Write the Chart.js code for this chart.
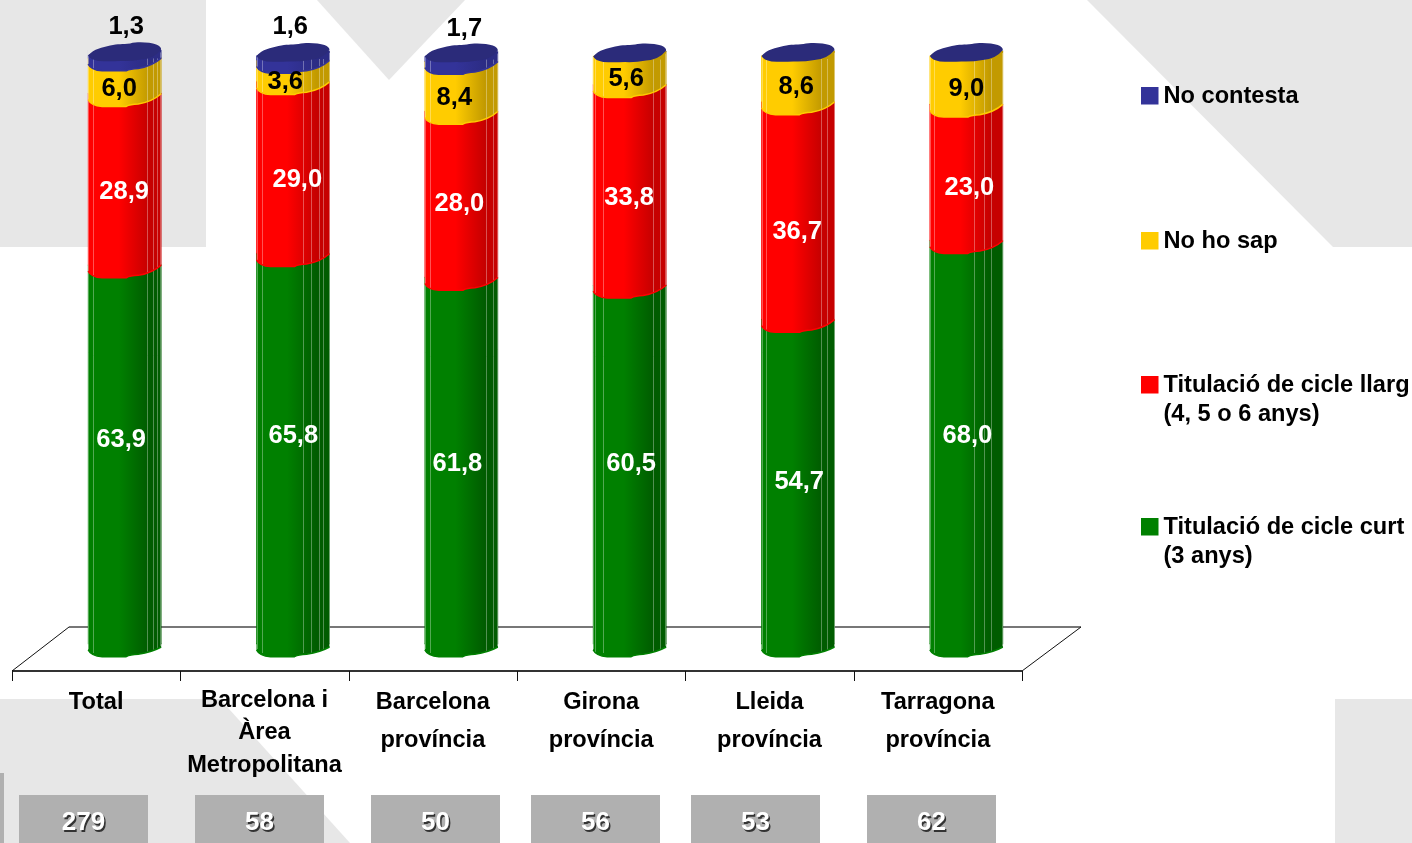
<!DOCTYPE html>
<html lang="ca">
<head>
  <meta charset="UTF-8" />
  <title>Titulació per territori</title>
  <script src="https://cdn.jsdelivr.net/npm/chart.js"></script>
  <style>
    html, body { margin: 0; padding: 0; background: #fff; overflow: hidden; }
    canvas { display: block; }
  </style>
</head>
<body>
  <canvas id="grafic" width="1412" height="843"></canvas>

  <script>
    // Dades
    const categories = [
      ['Total'],
      ['Barcelona i', 'Àrea', 'Metropolitana'],
      ['Barcelona', 'província'],
      ['Girona', 'província'],
      ['Lleida', 'província'],
      ['Tarragona', 'província']
    ];
    const sampleSizes = [279, 58, 50, 56, 53, 62];
    const cicleCurt = [63.9, 65.8, 61.8, 60.5, 54.7, 68.0];
    const cicleLlarg = [28.9, 29.0, 28.0, 33.8, 36.7, 23.0];
    const noHoSap = [6.0, 3.6, 8.4, 5.6, 8.6, 9.0];
    const noContesta = [1.3, 1.6, 1.7, 0, 0, 0];

    const FONT = '"Liberation Sans", Arial, sans-serif';
    const BAR_W = 73;
    const DEPTH_SHIFT = 28.5; // barres desplaçades respecte a l'eix pel 3D

    const shades = [
      ['#008000', '#005c00'],
      ['#ff0000', '#c60000'],
      ['#ffcc00', '#c29a00'],
      ['#333399', '#2c2c84']
    ];
    const legendRows = [
      { ds: 3, top: 87, lines: ['No contesta'] },
      { ds: 2, top: 232, lines: ['No ho sap'] },
      { ds: 1, top: 376, lines: ['Titulació de cicle llarg', '(4, 5 o 6 anys)'] },
      { ds: 0, top: 518, lines: ['Titulació de cicle curt', '(3 anys)'] }
    ];
    const sampleBoxes = [19, 195, 371, 531, 691, 867];
    const ribs = [
      [5, 59, 65, 69],
      [5, 46, 54, 62, 66],
      [5, 61, 68],
      [2, 10, 60, 67],
      [4, 59, 65],
      [4, 44, 54, 61]
    ];
    // Les etiquetes de l'original estan col·locades a mà: [dx, dy] des del centre del segment
    const labelShift = [
      [[-3.5, -14.5], [0.3, -13], [-4, 3], [1.5, -1], [1.2, 0], [1, -6.4]],
      [[-0.5, 12.6], [4.3, 12], [-2, 9.5], [-0.5, 13], [-0.8, 21], [3, 15.4]],
      [[-5.5, 13], [-7.7, 11], [-7, 11.5], [-3.5, 11], [-1.8, 10.5], [0, 11.3]],
      [[1.5, -27], [-2.7, -29], [3, -28], [0, 0], [0, 0], [0, 0]]
    ];

    function barGradient(ctx, seriesIndex) {
      const chart = ctx.chart;
      if (!chart.chartArea) return shades[seriesIndex][0];
      const cx = chart.scales.x.getPixelForValue(ctx.dataIndex);
      return makeGradient(chart.ctx, cx, seriesIndex);
    }

    function makeGradient(c, cx, seriesIndex) {
      const g = c.createLinearGradient(cx - BAR_W / 2, 0, cx + BAR_W / 2, 0);
      g.addColorStop(0, shades[seriesIndex][0]);
      g.addColorStop(0.42, shades[seriesIndex][0]);
      g.addColorStop(0.82, shades[seriesIndex][1]);
      g.addColorStop(1, shades[seriesIndex][1]);
      return g;
    }

    // vora inferior irregular del cilindre, des de (l, y + 6) cap a la dreta
    function traceEdge(c, l, y, endDrop) {
      c.quadraticCurveTo(l + 3, y + 12, l + 14, y + 12.7);
      c.lineTo(l + 38, y + 12.7);
      c.quadraticCurveTo(l + 42, y + 10.5, l + 50, y + 10.3);
      c.quadraticCurveTo(l + 64, y + 8, l + BAR_W, y + endDrop);
    }

    const decor = {
      id: 'decor',
      beforeDraw(chart) {
        const c = chart.ctx;
        c.save();
        c.fillStyle = '#ffffff';
        c.fillRect(0, 0, 1412, 843);
        c.fillStyle = '#e7e7e7';
        [
          [[0, 0], [206, 0], [206, 247], [0, 247]],
          [[317, 0], [465, 0], [389, 80]],
          [[1087, 0], [1412, 0], [1412, 247], [1333, 247]],
          [[0, 699], [220, 699], [350, 843], [0, 843]],
          [[1335, 699], [1412, 699], [1412, 843], [1335, 843]]
        ].forEach(p => {
          c.beginPath();
          p.forEach((q, i) => i ? c.lineTo(q[0], q[1]) : c.moveTo(q[0], q[1]));
          c.closePath();
          c.fill();
        });

        // caixes de mostra
        c.fillStyle = '#b0b0b0';
        c.fillRect(0, 773, 4, 70);
        sampleBoxes.forEach(x => c.fillRect(x, 795, 129, 48));
        c.font = 'bold 26px ' + FONT;
        c.textAlign = 'center';
        c.textBaseline = 'middle';
        sampleSizes.forEach((n, i) => {
          c.fillStyle = '#333333';
          c.fillText(n, sampleBoxes[i] + 66, 824.5);
          c.fillStyle = '#ffffff';
          c.fillText(n, sampleBoxes[i] + 64.5, 823);
        });

        // llegenda
        c.textAlign = 'left';
        c.font = 'bold 23.6px ' + FONT;
        legendRows.forEach(row => {
          c.fillStyle = shades[row.ds][0];
          c.fillRect(1141, row.top, 17.5, 17.5);
          c.fillStyle = '#000000';
          row.lines.forEach((t, i) => c.fillText(t, 1163.5, row.top + 9 + i * 29));
        });
        c.restore();
      },
      beforeDatasetsDraw(chart) {
        // terra
        const c = chart.ctx;
        const x = chart.scales.x;
        const left = x.left - DEPTH_SHIFT;
        const right = x.right - DEPTH_SHIFT;
        c.save();
        c.strokeStyle = '#777777';
        c.lineWidth = 2;
        c.beginPath();
        c.moveTo(left + 57, 627);
        c.lineTo(right + 59, 627);
        c.stroke();
        c.strokeStyle = '#333333';
        c.beginPath();
        c.moveTo(left, 671);
        c.lineTo(right, 671);
        c.stroke();
        c.strokeStyle = '#111111';
        c.lineWidth = 1;
        c.beginPath();
        c.moveTo(left, 671);
        c.lineTo(left + 57, 627);
        c.moveTo(right, 671);
        c.lineTo(right + 59, 627);
        for (let i = 0; i <= categories.length; i++) {
          const tx = Math.round(left + (right - left) * i / categories.length) + 0.5;
          c.moveTo(tx, 671);
          c.lineTo(tx, 681);
        }
        c.stroke();
        c.restore();

        // retalla la cantonada superior esquerra de cada barra, la tapa la fa arrodonida
        c.save();
        c.beginPath();
        c.rect(0, 0, 1412, 843);
        const tops = chart.getDatasetMeta(3).data;
        tops.forEach(el => {
          const l = el.x - BAR_W / 2;
          c.moveTo(l - 1, el.y + 5);
          c.lineTo(l - 1, el.y - 2);
          c.lineTo(l + 13, el.y - 2);
          c.closePath();
        });
        c.clip('evenodd');
      },
      afterDatasetsDraw(chart) {
        const c = chart.ctx;
        c.restore(); // treu el retall dels rectangles

        const metas = chart.data.datasets.map((d, i) => chart.getDatasetMeta(i));
        c.save();

        categories.forEach((cat, i) => {
          const cx = metas[0].data[i].x;
          const l = cx - BAR_W / 2;
          const base = metas[0].data[i].base;
          const top = metas[3].data[i].y;

          // voreres corbes, de baix a dalt
          metas.forEach((meta, s) => {
            const el = meta.data[i];
            if (Math.abs(el.y - el.base) < 0.01) return;
            const drop = s === 0 ? 3 : 0;
            c.beginPath();
            c.moveTo(l, el.base - 1);
            c.lineTo(l, el.base + 6);
            traceEdge(c, l, el.base, drop);
            c.lineTo(l + BAR_W, el.base - 1);
            c.closePath();
            c.fillStyle = makeGradient(c, cx, s);
            c.fill();
          });

          // nervis verticals clars
          c.strokeStyle = 'rgba(255,255,255,0.32)';
          c.lineWidth = 1;
          c.beginPath();
          ribs[i].forEach(r => {
            c.moveTo(Math.round(l + r) + 0.5, top + 8);
            c.lineTo(Math.round(l + r) + 0.5, base + 9);
          });
          c.moveTo(Math.round(l) + 0.5, top + 5);
          c.lineTo(Math.round(l) + 0.5, base + 5);
          c.moveTo(Math.round(l + BAR_W) - 0.5, top + 2);
          c.lineTo(Math.round(l + BAR_W) - 0.5, base + 2);
          c.stroke();

          // línia de la vora, per sobre dels nervis
          metas.forEach((meta, s) => {
            const el = meta.data[i];
            if (Math.abs(el.y - el.base) < 0.01) return;
            c.beginPath();
            c.moveTo(l, el.base + 6);
            traceEdge(c, l, el.base, s === 0 ? 3 : 0);
            c.strokeStyle = shades[s][0];
            c.lineWidth = 1.5;
            c.stroke();
          });

          // tapa superior
          c.beginPath();
          c.moveTo(l, top + 5);
          c.bezierCurveTo(l + 6, top - 2, l + 14, top - 3, l + 22, top - 5);
          c.bezierCurveTo(l + 30, top - 7, l + 34, top - 6, l + 42, top - 7);
          c.bezierCurveTo(l + 50, top - 9, l + 62, top - 8, l + 68, top - 6);
          c.quadraticCurveTo(l + 73, top - 4, l + BAR_W, top - 1);
          c.quadraticCurveTo(l + 66, top + 8, l + 53, top + 9);
          c.quadraticCurveTo(l + 42, top + 11, l + 32, top + 10.5);
          c.quadraticCurveTo(l + 20, top + 11, l + 10, top + 10.5);
          c.quadraticCurveTo(l + 2, top + 9, l, top + 5);
          c.closePath();
          c.fillStyle = '#2b2b7a';
          c.fill();
        });

        // etiquetes de valor
        c.textAlign = 'center';
        c.textBaseline = 'middle';
        c.font = 'bold 25.5px ' + FONT;
        metas.forEach((meta, s) => {
          chart.data.datasets[s].data.forEach((v, i) => {
            if (!v) return;
            const el = meta.data[i];
            const shift = labelShift[s][i];
            c.fillStyle = s < 2 ? '#ffffff' : '#000000';
            c.fillText(v.toFixed(1).replace('.', ','), el.x + shift[0], (el.y + el.base) / 2 + shift[1]);
          });
        });
        c.restore();
      }
    };

    function serie(label, values, index) {
      return {
        label: label,
        data: values,
        backgroundColor: ctx => barGradient(ctx, index),
        borderWidth: 0,
        barThickness: BAR_W,
        clip: false
      };
    }

    new Chart(document.getElementById('grafic'), {
      type: 'bar',
      data: {
        labels: categories,
        datasets: [
          serie('Titulació de cicle curt (3 anys)', cicleCurt, 0),
          serie('Titulació de cicle llarg (4, 5 o 6 anys)', cicleLlarg, 1),
          serie('No ho sap', noHoSap, 2),
          serie('No contesta', noContesta, 3)
        ]
      },
      options: {
        responsive: false,
        animation: false,
        layout: { padding: { left: 40.5, right: 361.5, top: 51, bottom: 0 } },
        plugins: { legend: { display: false }, title: { display: false }, tooltip: { enabled: false } },
        scales: {
          x: {
            stacked: true,
            grid: { display: false },
            border: { display: false },
            afterFit(scale) { scale.height = 199; },
            ticks: {
              color: '#000000',
              autoSkip: false,
              maxRotation: 0,
              minRotation: 0,
              padding: 32,
              labelOffset: -DEPTH_SHIFT,
              font: ctx => ({
                family: FONT,
                size: 23.6,
                weight: 'bold',
                lineHeight: ctx.index === 1 ? 1.38 : 1.6
              })
            }
          },
          y: { stacked: true, display: false, min: 0, max: 100 }
        }
      },
      plugins: [decor]
    });
  </script>
</body>
</html>
